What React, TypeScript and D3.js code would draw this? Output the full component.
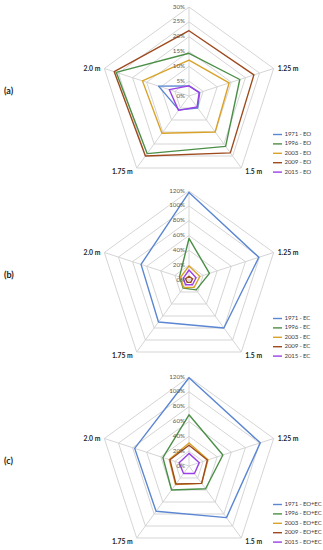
import React from 'react';
import * as d3 from 'd3';

// axes clockwise from the top; the top axis carries no visible label
const categories = ['', '1.25 m', '1.5 m', '1.75 m', '2.0 m'];
const years = ['1971', '1996', '2003', '2009', '2015'];
const seriesColors = ['#5a86d2', '#4b8f47', '#d9a32a', '#9e4a1e', '#9a40e6'];

const eoTicks = [0, 5, 10, 15, 20, 25, 30];
const ecTicks = [0, 20, 40, 60, 80, 100, 120];

// (a) EO, percent
const eo1971 = [3.4, 3.8, 5.0, 5.8, 10.8];
const eo1996 = [14.4, 18, 21, 24, 25.8];
const eo2003 = [12.1, 14.2, 15, 15.5, 16.5];
const eo2009 = [22, 23, 23.7, 25, 26.5];
const eo2015 = [3.4, 3.6, 4.6, 6.0, 7.0];

// (b) EC, percent
const ec1971 = [118, 99, 80, 70, 68];
const ec1996 = [56, 29, 16.5, 13.5, 13.5];
const ec2003 = [19, 15.5, 12, 12.5, 12];
const ec2009 = [5, 5, 4, 4, 5];
const ec2015 = [13.5, 10, 8, 8, 8];

// (c) EO+EC, percent
const eoec1971 = [119, 101, 86, 75.5, 77];
const eoec1996 = [69, 48, 38, 40, 37];
const eoec2003 = [31, 27, 29, 31, 28];
const eoec2009 = [28, 26, 29, 30, 27];
const eoec2015 = [17, 14.6, 12.5, 12.5, 14];

const font = 'Lato, "Open Sans", sans-serif';
const R = 89;
const cx = 189;

type PanelProps = {
  cy: number;
  tag: string;
  suffix: string;
  ticks: number[];
  series: number[][];
};

function Radar({ cy, tag, suffix, ticks, series }: PanelProps) {
  const max = d3.max(ticks) as number;
  const r = d3.scaleLinear().domain([0, max]).range([0, R]);
  const angle = (i: number) => (i * 2 * Math.PI) / categories.length;

  const line = d3
    .lineRadial<number>()
    .angle((_, i) => angle(i))
    .radius(d => r(d))
    .curve(d3.curveLinearClosed);

  const pt = (i: number, v: number) => {
    const a = angle(i);
    return [Math.sin(a) * r(v), -Math.cos(a) * r(v)];
  };

  return (
    <g transform={`translate(${cx},${cy})`}>
      {ticks.filter(t => t > 0).map(t => (
        <path key={t} d={line(categories.map(() => t)) || ''} fill="none" stroke="#d0d0d0" strokeWidth={0.9} />
      ))}
      {categories.map((c, i) => {
        const [x, y] = pt(i, max);
        return <line key={i} x1={0} y1={0} x2={x} y2={y} stroke="#d0d0d0" strokeWidth={0.9} />;
      })}
      {series.map((s, k) => (
        <path key={k} d={line(s) || ''} fill="none" stroke={seriesColors[k]} strokeWidth={1.4} strokeLinejoin="round" />
      ))}
      {ticks.map(t => (
        <text key={t} x={-4} y={-r(t)} textAnchor="end" dominantBaseline="middle"
          fontSize={6.2} fill="#595959" fontFamily={font}>{t}%</text>
      ))}
      {categories.map((c, i) => {
        if (!c) return null;
        const [x, y] = pt(i, max);
        const right = x > 0;
        const bottom = y > 20;
        return (
          <text key={c} x={x + (right ? 4 : -4)} y={bottom ? y + 6 : y + 2}
            textAnchor={right ? 'start' : 'end'} fontSize={6.8} fontWeight="bold"
            fill="#262626" fontFamily={font}>{c}</text>
        );
      })}
      <text x={4 - cx} y={-2} fontSize={9} fontWeight="bold" fill="#1a1a1a" fontFamily={font}>{tag}</text>
      {years.map((yr, k) => (
        <g key={yr} transform={`translate(${273 - cx},${38.5 + k * 9.4})`}>
          <line x1={0} x2={9} y1={0} y2={0} stroke={seriesColors[k]} strokeWidth={1.4} />
          <text x={11.5} y={0} dominantBaseline="middle" fontSize={6.1} letterSpacing={-0.15}
            fill="#404040" fontFamily={font}>
            {yr} - {suffix}
          </text>
        </g>
      ))}
    </g>
  );
}

export default function App() {
  return (
    <svg width={323} height={550} style={{ position: 'absolute', left: 0, top: 0, background: '#fff' }}>
      <Radar cy={96} tag="(a)" suffix="EO" ticks={eoTicks}
        series={[eo1971, eo1996, eo2003, eo2009, eo2015]} />
      <Radar cy={280} tag="(b)" suffix="EC" ticks={ecTicks}
        series={[ec1971, ec1996, ec2003, ec2009, ec2015]} />
      <Radar cy={466} tag="(c)" suffix="EO+EC" ticks={ecTicks}
        series={[eoec1971, eoec1996, eoec2003, eoec2009, eoec2015]} />
    </svg>
  );
}
